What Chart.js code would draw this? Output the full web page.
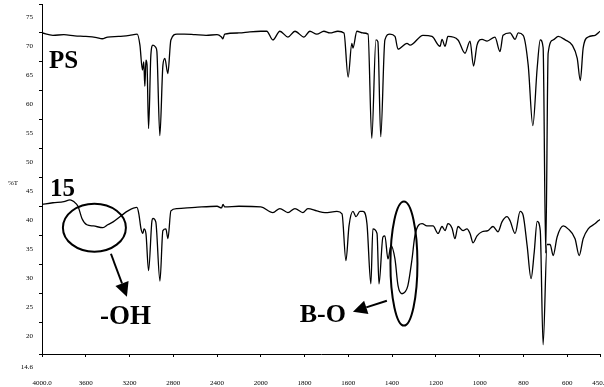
<!DOCTYPE html>
<html>
<head>
<meta charset="utf-8">
<script src="https://cdn.jsdelivr.net/npm/chart.js@4.4.1/dist/chart.umd.min.js"></script>
<style>
  html, body { margin: 0; padding: 0; background: #fff; }
  #wrap { width: 604px; height: 387px; }
</style>
</head>
<body>
<div id="wrap"><canvas id="ftir" width="604" height="387"></canvas></div>
<script>
// PS spectrum: wavenumber (cm-1) / %T
const psWave = [4000, 3900, 3800, 3700, 3600, 3500, 3450, 3400, 3300, 3200, 3130, 3105, 3082, 3070, 3060, 3050, 3040, 3026, 3005, 2986, 2960, 2950, 2923, 2895, 2877, 2850, 2822, 2767, 2700, 2600, 2500, 2400, 2360, 2347, 2330, 2200, 2100, 2000,
  1973, 1945, 1913, 1876, 1844, 1803, 1776, 1744, 1712, 1684, 1648, 1620, 1601, 1584, 1579, 1561, 1533, 1510, 1493, 1474, 1465, 1452, 1433, 1410, 1387, 1373, 1332, 1318, 1259, 1218, 1181, 1172, 1158, 1145, 1099, 1067, 1044, 1028, 1012, 989, 966, 930, 907, 893, 861, 838, 824, 801, 778, 757, 737, 723, 710, 698, 687, 664, 641, 609, 577, 554, 540, 527, 504, 472, 450];
const psT = [70.0, 69.6, 69.7, 69.5, 69.4, 69.2, 69.0, 69.3, 69.4, 69.6, 69.8, 67.9, 63.6, 65.0, 60.8, 65.3, 64.5, 53.5, 66.2, 67.9, 67.5, 66.8, 52.3, 64.4, 65.6, 63.0, 68.8, 69.8, 69.8, 69.7, 69.6, 69.7, 69.3, 69.0, 69.8, 70.0, 70.2, 70.3,
  70.3, 68.8, 70.3, 69.3, 70.3, 69.3, 70.3, 69.8, 70.3, 70.0, 70.3, 70.0, 62.4, 68.2, 67.4, 70.3, 70.0, 69.8, 51.8, 68.8, 68.5, 52.1, 68.8, 69.8, 69.4, 67.2, 68.2, 67.9, 69.6, 69.4, 67.7, 68.9, 67.7, 69.4, 68.8, 66.5, 68.6, 64.3, 67.9, 68.9, 68.6, 69.3, 66.8, 69.6, 70.0, 68.9, 70.0, 69.6, 64.4, 54.0, 64.0, 68.8, 67.5, 32.0, 66.5, 68.8, 69.4, 68.8, 67.9, 65.6, 61.8, 67.4, 69.3, 69.6, 70.3];

// sample 15 spectrum: wavenumber (cm-1) / %T
const s15Wave = [4000, 3900, 3800, 3744, 3710, 3671, 3635, 3590, 3530, 3443, 3400, 3350, 3280, 3215, 3132, 3115, 3095, 3078, 3068, 3050, 3026, 2995, 2986, 2960, 2922, 2895, 2868, 2849, 2822, 2767, 2600, 2400, 2360, 2345, 2330, 2200, 2000,
  1945, 1913, 1876, 1844, 1808, 1785, 1744, 1707, 1652, 1629, 1611, 1597, 1579, 1565, 1547, 1533, 1515, 1497, 1488, 1469, 1460, 1442, 1433, 1419, 1405, 1387, 1373, 1355, 1341, 1328, 1309, 1296, 1263, 1241, 1213, 1190, 1172, 1158, 1145, 1126, 1113, 1099, 1076, 1058, 1044, 1030, 1012, 989, 962, 939, 916, 898, 875, 861, 838, 815, 801, 783, 765, 751, 737, 723, 710, 692, 678, 664, 646, 618, 596, 564, 545, 527, 504, 472, 458, 450];
const s15T = [40.4, 40.7, 40.9, 41.2, 40.9, 40.1, 38.0, 36.9, 36.7, 36.4, 36.9, 37.4, 38.4, 39.3, 39.9, 38.8, 36.2, 35.4, 36.2, 35.4, 29.0, 37.6, 38.0, 37.4, 27.2, 35.9, 36.2, 34.5, 39.3, 39.7, 39.9, 40.1, 39.8, 40.4, 40.0, 40.1, 40.0,
  39.0, 39.7, 39.0, 39.7, 39.0, 39.7, 39.3, 39.0, 39.2, 38.8, 30.7, 36.7, 39.2, 38.3, 39.2, 39.2, 37.1, 26.7, 36.2, 35.4, 26.7, 34.8, 35.0, 31.0, 33.3, 31.0, 26.4, 25.0, 25.3, 26.4, 31.0, 35.0, 37.1, 36.7, 36.7, 35.4, 36.6, 35.9, 37.1, 36.3, 34.5, 36.6, 35.9, 36.2, 35.4, 33.8, 35.0, 35.7, 35.9, 36.6, 35.7, 37.4, 38.3, 37.6, 35.4, 39.2, 38.5, 33.3, 27.6, 32.0, 37.5, 35.9, 16.2, 33.5, 33.5, 31.6, 34.8, 36.7, 36.2, 34.5, 31.6, 34.5, 36.2, 37.1, 37.6, 37.8];

const xTickWave = [4000, 3600, 3200, 2800, 2400, 2000, 1800, 1600, 1400, 1200, 1000, 800, 600, 450];
const xTickLabels = ['4000.0', '3600', '3200', '2800', '2400', '2000', '1800', '1600', '1400', '1200', '1000', '800', '600', '450.0'];
const yTickValues = [14.6, 20, 25, 30, 35, 40, 45, 50, 55, 60, 65, 70, 75];

// abscissa is split: below 2000 cm-1 the instrument plots at twice the scale
function axisPos(w) {
  return w >= 2000 ? 4000 - w : 2000 + 2 * (2000 - w);
}
function toPoints(wave, t) {
  return wave.map((w, i) => ({ x: axisPos(w), y: t[i] }));
}

const SERIF = '"Liberation Serif", "Times New Roman", serif';

function arrow(ctx, x1, y1, x2, y2) {
  const a = Math.atan2(y2 - y1, x2 - x1);
  const len = 14, half = 7;
  const bx = x2 - len * Math.cos(a), by = y2 - len * Math.sin(a);
  ctx.beginPath();
  ctx.moveTo(x1, y1);
  ctx.lineTo(bx, by);
  ctx.stroke();
  ctx.beginPath();
  ctx.moveTo(x2, y2);
  ctx.lineTo(bx + half * Math.sin(a), by - half * Math.cos(a));
  ctx.lineTo(bx - half * Math.sin(a), by + half * Math.cos(a));
  ctx.closePath();
  ctx.fill();
}

// labels, ellipses and arrows, placed in data coordinates
const notes = {
  id: 'notes',
  afterDatasetsDraw(chart) {
    const { ctx, scales: { x, y } } = chart;
    const px = w => x.getPixelForValue(axisPos(w));
    const py = v => y.getPixelForValue(v);
    ctx.save();
    ctx.fillStyle = '#000';
    ctx.strokeStyle = '#000';
    ctx.textBaseline = 'alphabetic';
    ctx.textAlign = 'left';

    ctx.font = 'bold 25px ' + SERIF;
    ctx.fillText('PS', px(3936), py(63.9));
    ctx.fillText('15', px(3927), py(41.9));
    ctx.font = 'bold 27px ' + SERIF;
    ctx.fillText('-OH', px(3470), py(19.8));
    ctx.font = 'bold 26px ' + SERIF;
    ctx.fillText('B-O', px(1822), py(20.1));

    ctx.lineWidth = 2;
    ctx.beginPath();
    ctx.ellipse(px(3521), py(36.4), 31.5, 24, 0, 0, Math.PI * 2);
    ctx.stroke();
    ctx.beginPath();
    ctx.ellipse(px(1346), py(30.2), 13.5, 62, 0, 0, Math.PI * 2);
    ctx.stroke();

    arrow(ctx, px(3370), py(31.9), px(3224), py(24.5));
    arrow(ctx, px(1424), py(23.8), px(1579), py(21.9));

    // axis title, set horizontally as in the scan
    ctx.font = '7px ' + SERIF;
    ctx.textAlign = 'center';
    ctx.textBaseline = 'middle';
    ctx.fillText('%T', 13, py(44));
    ctx.restore();
  }
};

const lineStyle = {
  borderColor: '#000',
  borderWidth: 1.3,
  pointRadius: 0,
  fill: false,
  cubicInterpolationMode: 'monotone'
};

new Chart(document.getElementById('ftir'), {
  type: 'line',
  data: {
    datasets: [
      Object.assign({ label: 'PS', data: toPoints(psWave, psT) }, lineStyle),
      Object.assign({ label: '15', data: toPoints(s15Wave, s15T) }, lineStyle)
    ]
  },
  options: {
    responsive: false,
    animation: false,
    events: [],
    layout: { padding: { left: 0, top: 4, right: 4, bottom: 0 } },
    plugins: { legend: { display: false }, tooltip: { enabled: false } },
    scales: {
      x: {
        type: 'linear',
        min: 0,
        max: axisPos(450),
        afterBuildTicks: s => { s.ticks = xTickWave.map(w => ({ value: axisPos(w) })); },
        afterFit: s => {
          s.height = 33;
          s.paddingLeft = 0;
          s.paddingRight = 0;
        },
        ticks: {
          autoSkip: false,
          maxRotation: 0,
          padding: 22,
          color: '#000',
          font: { family: SERIF, size: 7 },
          callback: (v, i) => xTickLabels[i]
        },
        grid: { drawOnChartArea: false, tickLength: 3, color: '#000' },
        border: { color: '#000', width: 1 }
      },
      y: {
        type: 'linear',
        min: 14.6,
        max: 75,
        afterBuildTicks: s => { s.ticks = yTickValues.map(v => ({ value: v })); },
        afterFit: s => {
          s.width = 42;
          s.paddingTop = 0;
          s.paddingBottom = 0;
        },
        ticks: {
          autoSkip: false,
          padding: 6,
          labelOffset: 13,
          color: '#000',
          font: { family: SERIF, size: 7 },
          callback: v => (v === 14.6 ? '14.6' : String(v))
        },
        grid: { drawOnChartArea: false, tickLength: 3, color: '#000' },
        border: { color: '#000', width: 1 }
      }
    }
  },
  plugins: [notes]
});
</script>
</body>
</html>
